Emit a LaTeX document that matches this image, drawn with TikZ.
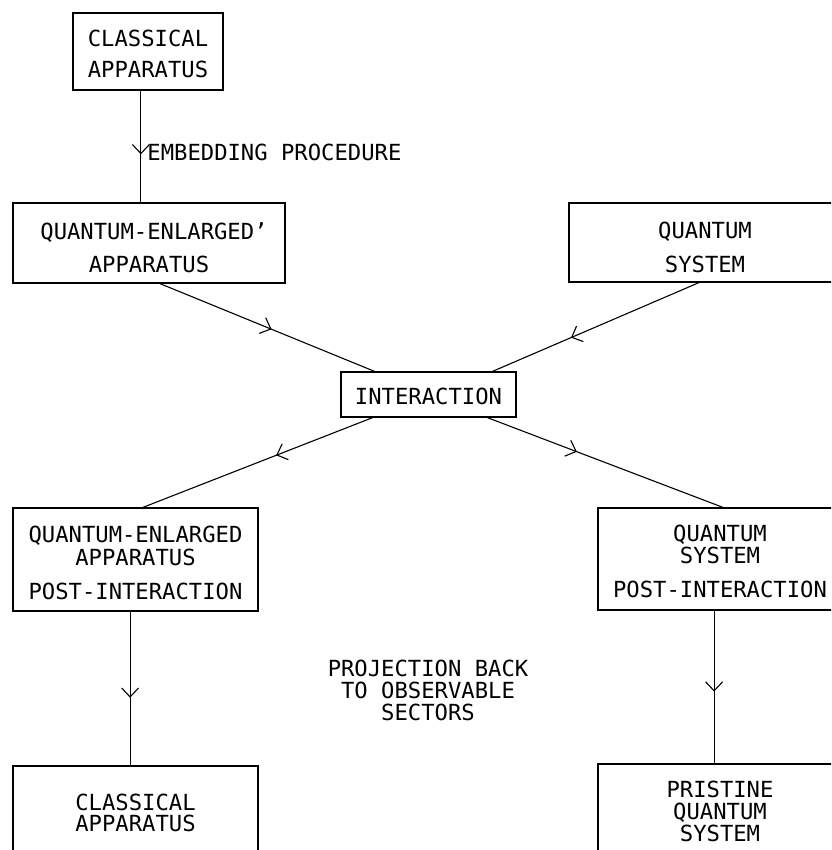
\documentclass[tikz,border=0pt]{standalone}
\usepackage{fontspec}
\newfontfamily\typefont{DejaVu Sans Mono}
\usetikzlibrary{calc,decorations.markings,arrows.meta}
\tikzset{
  box/.style={draw, line width=1.2pt, rectangle, inner sep=0pt},
  txt/.style={font=\typefont\fontsize{22.2}{23}\selectfont, inner sep=0pt, text height=16pt, text depth=0pt, anchor=center},
  flow/.style={line width=1.1pt},
  midarrow/.style={postaction={decorate}, decoration={markings,
     mark=at position #1 with {\arrow{Straight Barb[length=9pt,width=17pt,line width=1.1pt]}}}},
}
\begin{document}
\begin{tikzpicture}[x=1pt,y=-1pt]
\useasboundingbox (0,0) rectangle (831,850);
\clip (0,0) rectangle (831,850);
% boxes
\node[box, minimum width=150pt, minimum height=77pt] (A) at (148,51.5) {};
\node[box, minimum width=272pt, minimum height=80pt] (B) at (149,243) {};
\node[box, minimum width=272pt, minimum height=79pt] (C) at (705,242.5) {};
\node[box, minimum width=175pt, minimum height=45pt] (D) at (428.5,394.5) {};
\node[box, minimum width=245pt, minimum height=103pt] (E) at (135.5,559.5) {};
\node[box, minimum width=244pt, minimum height=102pt] (F) at (720,559) {};
\node[box, minimum width=245pt, minimum height=140pt] (G) at (135.5,836) {};
\node[box, minimum width=244pt, minimum height=140pt] (H) at (720,834) {};
% texts
\node[txt] (A1) at (148,38.5) {CLASSICAL};
\node[txt] (A2) at (148,69.5) {APPARATUS};
\node[txt] (B1) at (154,231) {QUANTUM-ENLARGED’};
\node[txt] (B2) at (149,264) {APPARATUS};
\node[txt] (C1) at (705,230) {QUANTUM};
\node[txt] (C2) at (705,264) {SYSTEM};
\node[txt] (D1) at (428.5,396) {INTERACTION};
\node[txt] (E1) at (135.5,534) {QUANTUM-ENLARGED};
\node[txt] (E2) at (135.5,557) {APPARATUS};
\node[txt] (E3) at (135.5,591) {POST-INTERACTION};
\node[txt] (F1) at (720,533) {QUANTUM};
\node[txt] (F2) at (720,555) {SYSTEM};
\node[txt] (F3) at (720,589) {POST-INTERACTION};
\node[txt] (G1) at (135.5,802) {CLASSICAL};
\node[txt] (G2) at (135.5,823) {APPARATUS};
\node[txt] (H1) at (720,789) {PRISTINE};
\node[txt] (H2) at (720,811) {QUANTUM};
\node[txt] (H3) at (720,833) {SYSTEM};
\node[txt] (P1) at (428,668) {PROJECTION BACK};
\node[txt] (P2) at (428,690) {TO OBSERVABLE};
\node[txt] (P3) at (428,712) {SECTORS};
% connector end points
\coordinate (a1) at ($(A.south west)!0.453!(A.south east)$);
\coordinate (b1) at ($(B.south west)!0.54!(B.south east)$);
\coordinate (c1) at ($(C.south west)!0.478!(C.south east)$);
\coordinate (d1) at ($(D.north west)!0.194!(D.north east)$);
\coordinate (d2) at ($(D.north west)!0.863!(D.north east)$);
\coordinate (d3) at ($(D.south west)!0.183!(D.south east)$);
\coordinate (d4) at ($(D.south west)!0.834!(D.south east)$);
\coordinate (e1) at ($(E.north west)!0.53!(E.north east)$);
\coordinate (f1) at ($(F.north west)!0.512!(F.north east)$);
\coordinate (e2) at ($(E.south west)!0.478!(E.south east)$);
\coordinate (f2) at ($(F.south west)!0.476!(F.south east)$);
% connectors
\draw[flow, midarrow=0.57] (a1) -- (a1 |- B.north)
  node[txt, pos=0.55, anchor=west, xshift=6pt] (emb) {EMBEDDING PROCEDURE};
\draw[flow, midarrow=0.52] (b1) -- (d1);
\draw[flow, midarrow=0.62] (c1) -- (d2);
\draw[flow, midarrow=0.42] (d3) -- (e1);
\draw[flow, midarrow=0.38] (d4) -- (f1);
\draw[flow, midarrow=0.56] (e2) -- (e2 |- G.north);
\draw[flow, midarrow=0.53] (f2) -- (f2 |- H.north);
\end{tikzpicture}
\end{document}
